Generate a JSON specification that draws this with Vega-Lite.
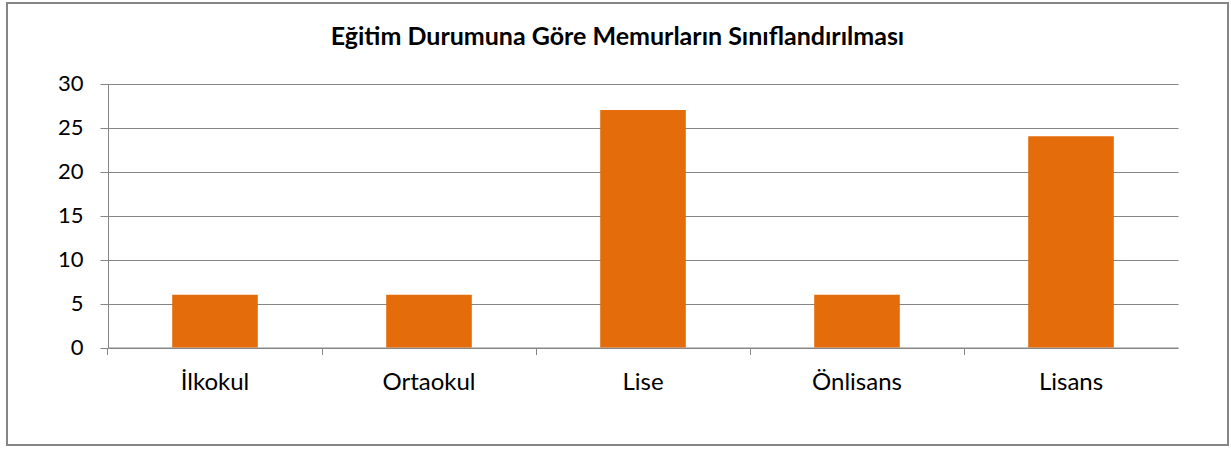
{
  "$schema": "https://vega.github.io/schema/vega-lite/v6.json",
  "autosize": {"type": "none"},
  "width": 1221,
  "height": 442,
  "padding": {"left": 7, "top": 3, "right": 3, "bottom": 5},
  "background": "white",
  "title": {
    "text": "Eğitim Durumuna Göre Memurların Sınıflandırılması",
    "font": "Lato",
    "fontSize": 25,
    "fontWeight": "bold",
    "color": "black",
    "anchor": "middle",
    "frame": "group",
    "orient": "top",
    "baseline": "alphabetic",
    "offset": -67
  },
  "data": {
    "values": [
      {"egitim": "İlkokul", "sayi": 6},
      {"egitim": "Ortaokul", "sayi": 6},
      {"egitim": "Lise", "sayi": 27},
      {"egitim": "Önlisans", "sayi": 6},
      {"egitim": "Lisans", "sayi": 24}
    ]
  },
  "mark": {"type": "bar", "color": "#E46C0A"},
  "encoding": {
    "x": {
      "field": "egitim",
      "type": "nominal",
      "sort": null,
      "scale": {"range": [101, 1171], "paddingInner": 0.6, "paddingOuter": 0.3},
      "axis": {
        "title": null,
        "orient": "bottom",
        "offset": -97.5,
        "labelAngle": 0,
        "bandPosition": -0.75,
        "labelFont": "Lato",
        "labelFontSize": 24,
        "labelColor": "black",
        "labelBaseline": "alphabetic",
        "labelPadding": 35,
        "tickSize": 7,
        "tickColor": "#868686",
        "domainColor": "#868686",
        "grid": false
      }
    },
    "y": {
      "field": "sayi",
      "type": "quantitative",
      "scale": {"domain": [0, 30], "range": [344.5, 80.5], "nice": false},
      "axis": {
        "title": null,
        "offset": -101,
        "values": [0, 5, 10, 15, 20, 25, 30],
        "labelFont": "Lato",
        "labelFontSize": 22,
        "labelColor": "black",
        "labelPadding": 17,
        "tickSize": 8,
        "tickColor": "#868686",
        "domainColor": "#868686",
        "grid": true,
        "gridColor": "#868686",
        "gridOpacity": 1
      }
    }
  },
  "config": {
    "view": {"stroke": "#868686", "strokeWidth": 2}
  }
}
